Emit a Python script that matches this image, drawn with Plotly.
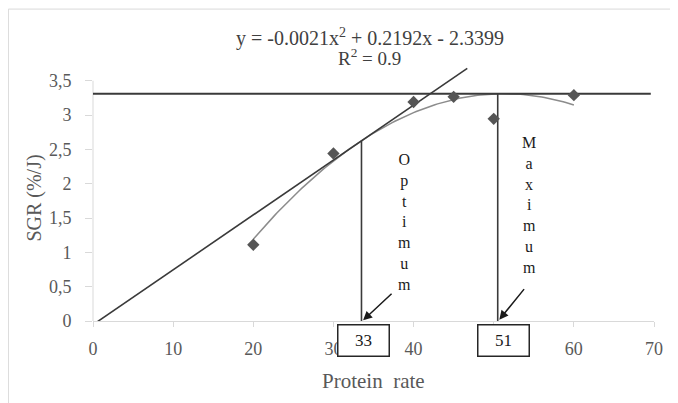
import numpy as np
import plotly.graph_objects as go

# ---- data ----
protein_rate = [20, 30, 40, 45, 50, 60]
sgr = [1.11, 2.44, 3.19, 3.265, 2.945, 3.29]

x_ticks = [0, 10, 20, 30, 40, 50, 60, 70]
x_tick_text = ["0", "10", "20", "30", "40", "", "60", "70"]  # "50" is hidden under the box
y_ticks = [0, 0.5, 1, 1.5, 2, 2.5, 3, 3.5]
y_tick_text = ["0", "0,5", "1", "1,5", "2", "2,5", "3", "3,5"]

plateau_x = [-0.4, 69.6]
plateau_y = [3.31, 3.31]
tangent_x = [-0.2, 46.7]
tangent_y = [-0.07, 3.68]
optimum_x = [33.5, 33.5]
optimum_y = [0, 2.625]
maximum_x = [50.5, 50.5]
maximum_y = [0, 3.31]

box_labels = ["33", "51"]
box_x = [33.7, 51.2]

equation_text = "y = -0.0021x<sup>2</sup> + 0.2192x - 2.3399"
r2_text = "R<sup>2</sup> = 0.9"

# quadratic trendline (as the spreadsheet trendline) fitted from the points
coefs = np.polyfit(protein_rate, sgr, 2)
trend_x = np.linspace(min(protein_rate), max(protein_rate), 121)
trend_y = np.polyval(coefs, trend_x)

SERIF = "Liberation Serif"
GRAY = "#595959"
DARK = "#3a3a3a"

fig = go.Figure()
fig.add_trace(go.Scatter(x=trend_x, y=trend_y, mode="lines",
                         line=dict(color="#8c8c8c", width=1.5), hoverinfo="skip"))
fig.add_trace(go.Scatter(x=plateau_x, y=plateau_y, mode="lines",
                         line=dict(color=DARK, width=2)))
fig.add_trace(go.Scatter(x=tangent_x, y=tangent_y, mode="lines",
                         line=dict(color=DARK, width=1.6)))
fig.add_trace(go.Scatter(x=optimum_x, y=optimum_y, mode="lines",
                         line=dict(color=DARK, width=1.6)))
fig.add_trace(go.Scatter(x=maximum_x, y=maximum_y, mode="lines",
                         line=dict(color=DARK, width=1.6)))
fig.add_trace(go.Scatter(x=protein_rate, y=sgr, mode="markers",
                         marker=dict(symbol="diamond", size=9.5, color="#555555")))

annotations = []
# equation + R2
annotations.append(dict(xref="paper", yref="paper", x=0.493, y=1.116, text=equation_text,
                        showarrow=False, font=dict(family=SERIF, size=20, color="#404040"),
                        xanchor="center", yanchor="middle"))
annotations.append(dict(xref="paper", yref="paper", x=0.493, y=1.039, text=r2_text,
                        showarrow=False, font=dict(family=SERIF, size=19, color="#404040"),
                        xanchor="center", yanchor="middle"))
# vertical words
annotations.append(dict(x=38.9, y=1.443, text="<br>".join("Optimum"), showarrow=False,
                        font=dict(family=SERIF, size=16, color="#1a1a1a"),
                        xanchor="center", yanchor="middle"))
annotations.append(dict(x=54.4, y=1.687, text="<br>".join("Maximum"), showarrow=False,
                        font=dict(family=SERIF, size=16, color="#1a1a1a"),
                        xanchor="center", yanchor="middle"))
# arrows
annotations.append(dict(x=33.7, y=0.01, text="", showarrow=True, ax=30, ay=-28,
                        arrowhead=2, arrowsize=1.2, arrowwidth=1.5, arrowcolor="#1a1a1a"))
annotations.append(dict(x=50.7, y=0.02, text="", showarrow=True, ax=26, ay=-32,
                        arrowhead=2, arrowsize=1.2, arrowwidth=1.5, arrowcolor="#1a1a1a"))
# boxed values
for lab, bx in zip(box_labels, box_x):
    annotations.append(dict(x=bx, xref="x", yref="paper", y=-0.075, text=lab,
                            showarrow=False, font=dict(family=SERIF, size=17, color="#1a1a1a"),
                            bgcolor="white", bordercolor="#262626", borderwidth=1.5,
                            borderpad=0, width=50, height=30,
                            xanchor="center", yanchor="middle"))
# axis titles
annotations.append(dict(xref="paper", yref="paper", x=0.5, y=-0.238, text="Protein  rate",
                        showarrow=False, font=dict(family=SERIF, size=21, color=GRAY),
                        xanchor="center", yanchor="middle"))
annotations.append(dict(xref="paper", yref="paper", x=-0.1044, y=0.4835, text="SGR (%/J)",
                        textangle=-90, showarrow=False,
                        font=dict(family=SERIF, size=20, color=GRAY),
                        xanchor="center", yanchor="middle"))

shapes = [
    # y axis line (0 to 3.5)
    dict(type="line", xref="x domain", yref="y domain", x0=0, x1=0, y0=0, y1=3.5 / 3.7,
         line=dict(color="#d9d9d9", width=1), layer="below"),
    # chart frame (left + top)
    dict(type="line", xref="paper", yref="paper", x0=-0.1508, x1=-0.1508, y0=-0.33, y1=1.228,
         line=dict(color="#d9d9d9", width=1)),
    dict(type="line", xref="paper", yref="paper", x0=-0.1508, x1=1.05, y0=1.228, y1=1.228,
         line=dict(color="#d9d9d9", width=1)),
]

fig.update_layout(
    width=670, height=395,
    margin=dict(l=85, r=24, t=59, b=82),
    paper_bgcolor="white", plot_bgcolor="white",
    showlegend=False,
    annotations=annotations,
    shapes=shapes,
    xaxis=dict(range=[0, 70], tickvals=x_ticks, ticktext=x_tick_text,
               showgrid=False, zeroline=False,
               showline=True, linecolor="#d9d9d9", linewidth=1,
               ticks="outside", ticklen=5, tickcolor="#d9d9d9",
               ticklabelstandoff=6,
               tickfont=dict(family=SERIF, size=18, color=GRAY)),
    yaxis=dict(range=[0, 3.7], tickvals=y_ticks, ticktext=y_tick_text,
               showgrid=False, zeroline=False, showline=False,
               ticks="outside", ticklen=7, tickcolor="#d9d9d9",
               ticklabelstandoff=10,
               tickfont=dict(family=SERIF, size=18, color=GRAY)),
)

fig.write_html("out.html")
